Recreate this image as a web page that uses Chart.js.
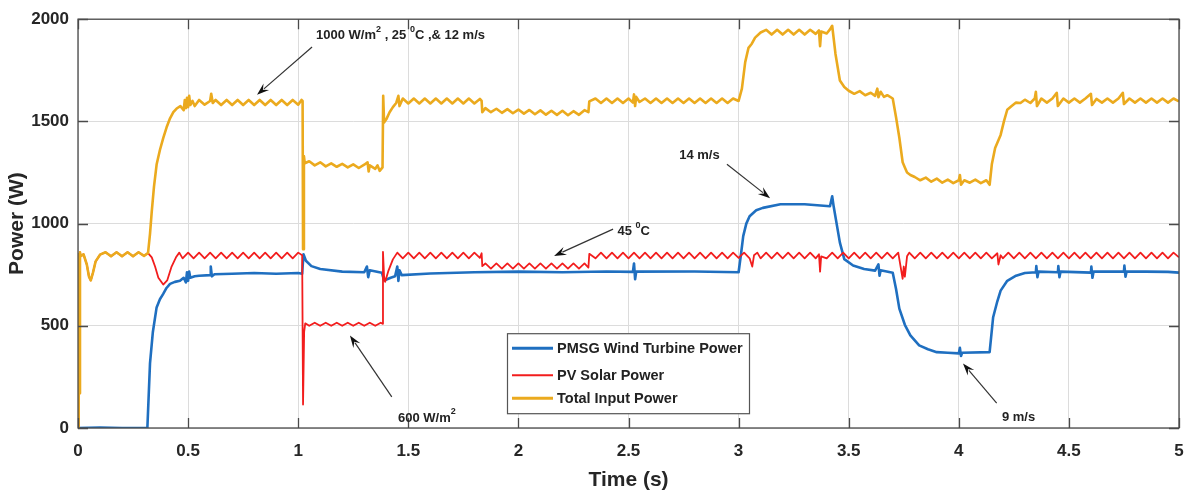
<!DOCTYPE html>
<html>
<head>
<meta charset="utf-8">
<script src="https://cdn.jsdelivr.net/npm/chart.js@4.4.1/dist/chart.umd.min.js"></script>
<style>
  html, body { margin: 0; padding: 0; background: #fff; }
  #wrap { width: 1188px; height: 498px; position: relative; }
</style>
</head>
<body>
<div id="wrap"><canvas id="powerChart"></canvas></div>
<script>
// axis ticks
const xTicks = [0, 0.5, 1, 1.5, 2, 2.5, 3, 3.5, 4, 4.5, 5];
const yTicks = [0, 500, 1000, 1500, 2000];

// [time (s), power (W)]
const windPower = [
  [0,0],[0.1,2],[0.2,0],[0.315,0],[0.327,316],[0.34,470],[0.357,590],[0.372,630],[0.387,656],[0.402,685],[0.418,705],[0.44,715],
  [0.463,720],[0.48,735],[0.49,712],[0.495,762],[0.5,720],[0.505,765],[0.51,735],[0.53,742],[0.55,745],[0.6,748],[0.603,790],
  [0.608,742],[0.62,752],[0.7,755],[0.8,758],[0.9,755],[1.0,758],[1.018,755],[1.024,850],[1.035,818],[1.06,792],[1.1,778],
  [1.2,765],[1.3,762],[1.312,790],[1.318,738],[1.325,772],[1.38,760],[1.39,722],[1.42,735],[1.44,742],[1.45,790],[1.455,720],
  [1.46,772],[1.47,748],[1.6,756],[1.8,762],[2.0,765],[2.2,762],[2.4,766],[2.52,764],[2.525,805],[2.53,728],[2.535,765],
  [2.8,766],[3.0,762],[3.012,860],[3.021,939],[3.035,1000],[3.05,1036],[3.08,1065],[3.11,1077],[3.19,1095],[3.3,1095],
  [3.415,1085],[3.425,1134],[3.432,1082],[3.46,907],[3.48,826],[3.52,795],[3.57,778],[3.62,770],[3.635,800],[3.64,745],
  [3.645,772],[3.7,760],[3.715,680],[3.73,584],[3.755,505],[3.78,453],[3.82,404],[3.86,385],[3.9,371],[3.95,368],[4.0,365],
  [4.005,392],[4.01,352],[4.015,368],[4.14,371],[4.156,542],[4.175,620],[4.19,672],[4.22,720],[4.26,745],[4.3,758],[4.35,762],
  [4.352,792],[4.357,738],[4.362,765],[4.45,762],[4.452,792],[4.457,738],[4.462,765],[4.6,760],[4.602,790],[4.607,735],
  [4.612,765],[4.75,766],[4.752,795],[4.757,740],[4.762,766],[4.85,765],[4.95,764],[5.0,760]
];

const pvPower = [
  [0,0],[0.003,850],[0.006,170],[0.009,860],[0.012,840],[0.025,850],[0.04,800],[0.05,740],[0.058,722],[0.068,760],[0.08,815],
  [0.1,848],[0.125,860],[0.15,840],[0.175,860],[0.2,840],[0.225,860],[0.25,840],[0.275,860],[0.3,842],[0.318,856],
  [0.335,835],[0.35,790],[0.365,735],[0.387,702],[0.405,722],[0.425,790],[0.445,835],[0.46,858],[0.475,830],[0.5,858],
  [0.525,830],[0.55,858],[0.575,830],[0.6,858],[0.625,830],[0.65,858],[0.675,830],[0.7,858],[0.725,830],[0.75,858],
  [0.775,830],[0.8,858],[0.825,830],[0.85,858],[0.875,830],[0.9,858],[0.925,830],[0.95,858],[0.975,830],[1.0,858],
  [1.018,845],[1.022,115],[1.027,470],[1.032,512],[1.05,500],[1.075,515],[1.1,500],[1.125,515],[1.15,500],[1.175,515],
  [1.2,500],[1.225,515],[1.25,500],[1.275,515],[1.3,500],[1.325,515],[1.35,500],[1.375,515],[1.383,510],[1.385,862],
  [1.39,740],[1.395,715],[1.41,770],[1.43,825],[1.45,858],[1.475,830],[1.5,858],[1.525,830],[1.55,858],[1.575,830],
  [1.6,858],[1.625,830],[1.65,858],[1.675,830],[1.7,858],[1.725,830],[1.75,858],[1.775,830],[1.8,858],[1.825,832],
  [1.833,855],[1.836,792],[1.85,805],[1.875,780],[1.9,805],[1.925,780],[1.95,805],[1.975,780],[2.0,805],[2.025,780],
  [2.05,805],[2.075,780],[2.1,805],[2.125,780],[2.15,805],[2.175,780],[2.2,805],[2.225,780],[2.25,805],[2.275,780],
  [2.3,805],[2.318,785],[2.322,852],[2.35,830],[2.375,858],[2.4,830],[2.425,858],[2.45,830],[2.475,858],[2.5,830],
  [2.525,858],[2.55,830],[2.575,858],[2.6,830],[2.625,858],[2.65,830],[2.675,858],[2.7,830],[2.725,858],[2.75,830],
  [2.775,858],[2.8,830],[2.825,858],[2.85,830],[2.875,858],[2.9,830],[2.925,858],[2.95,830],[2.975,858],[3.0,832],
  [3.025,858],[3.05,830],[3.062,790],[3.07,845],[3.085,858],[3.1,830],[3.125,858],[3.15,830],[3.175,858],[3.2,830],
  [3.225,858],[3.25,830],[3.275,858],[3.3,830],[3.325,858],[3.35,830],[3.365,850],[3.37,765],[3.375,840],[3.4,830],
  [3.425,858],[3.45,830],[3.475,858],[3.5,830],[3.525,858],[3.55,830],[3.575,858],[3.6,830],[3.625,858],[3.65,830],
  [3.675,858],[3.7,830],[3.725,858],[3.745,730],[3.75,790],[3.755,740],[3.765,840],[3.775,858],[3.8,830],[3.825,858],
  [3.85,830],[3.875,858],[3.9,830],[3.925,858],[3.95,830],[3.975,858],[4.0,830],[4.025,858],[4.05,830],[4.075,858],
  [4.1,830],[4.125,858],[4.15,830],[4.175,855],[4.18,800],[4.19,845],[4.2,830],[4.225,858],[4.25,830],[4.275,858],
  [4.3,830],[4.325,858],[4.35,830],[4.375,858],[4.4,830],[4.425,858],[4.45,830],[4.475,858],[4.5,830],[4.525,858],
  [4.55,830],[4.575,858],[4.6,830],[4.625,858],[4.65,830],[4.675,858],[4.7,830],[4.725,858],[4.75,830],[4.775,858],
  [4.8,830],[4.825,858],[4.85,830],[4.875,858],[4.9,830],[4.925,858],[4.95,830],[4.975,858],[5.0,835]
];

const totalPower = [
  [0,0],[0.003,850],[0.006,170],[0.009,860],[0.012,840],[0.025,850],[0.04,800],[0.05,740],[0.058,722],[0.068,760],[0.08,815],
  [0.1,848],[0.125,860],[0.15,840],[0.175,860],[0.2,840],[0.225,860],[0.25,840],[0.275,860],[0.3,842],[0.318,856],
  [0.327,950],[0.335,1060],[0.345,1180],[0.357,1289],[0.372,1360],[0.387,1418],[0.402,1470],[0.418,1515],[0.433,1545],
  [0.448,1563],[0.465,1575],[0.48,1555],[0.485,1605],[0.49,1565],[0.495,1615],[0.5,1570],[0.505,1625],[0.51,1580],
  [0.52,1600],[0.53,1575],[0.55,1605],[0.575,1582],[0.6,1600],[0.605,1635],[0.612,1590],[0.625,1605],[0.65,1580],
  [0.675,1605],[0.7,1580],[0.725,1605],[0.75,1580],[0.775,1605],[0.8,1580],[0.825,1605],[0.85,1580],[0.875,1605],
  [0.9,1580],[0.925,1605],[0.95,1580],[0.975,1605],[1.0,1582],[1.015,1605],[1.02,1600],[1.022,875],[1.026,1330],
  [1.03,1295],[1.05,1305],[1.075,1285],[1.1,1300],[1.125,1280],[1.15,1295],[1.175,1278],[1.2,1292],[1.225,1275],
  [1.25,1290],[1.275,1272],[1.3,1288],[1.315,1300],[1.32,1255],[1.325,1285],[1.35,1268],[1.36,1285],[1.37,1258],
  [1.383,1275],[1.386,1625],[1.39,1495],[1.4,1510],[1.415,1545],[1.43,1570],[1.445,1590],[1.455,1625],[1.46,1575],
  [1.475,1612],[1.5,1588],[1.525,1612],[1.55,1588],[1.575,1612],[1.6,1588],[1.625,1612],[1.65,1588],[1.675,1612],
  [1.7,1588],[1.725,1612],[1.75,1588],[1.775,1612],[1.8,1588],[1.825,1610],[1.833,1600],[1.836,1545],[1.85,1565],
  [1.875,1545],[1.9,1562],[1.925,1542],[1.95,1560],[1.975,1540],[2.0,1558],[2.025,1538],[2.05,1556],[2.075,1535],
  [2.1,1554],[2.125,1533],[2.15,1552],[2.175,1532],[2.2,1552],[2.225,1530],[2.25,1550],[2.275,1532],[2.3,1555],
  [2.318,1545],[2.322,1598],[2.35,1612],[2.375,1590],[2.4,1612],[2.425,1590],[2.45,1612],[2.475,1590],[2.5,1612],
  [2.52,1592],[2.525,1632],[2.53,1575],[2.535,1620],[2.55,1595],[2.575,1612],[2.6,1590],[2.625,1612],[2.65,1590],
  [2.675,1612],[2.7,1590],[2.725,1612],[2.75,1590],[2.775,1612],[2.8,1590],[2.825,1612],[2.85,1590],[2.875,1612],
  [2.9,1590],[2.925,1612],[2.95,1590],[2.975,1612],[3.0,1600],[3.015,1660],[3.03,1790],[3.045,1860],[3.06,1880],
  [3.075,1910],[3.1,1935],[3.125,1948],[3.15,1925],[3.175,1948],[3.2,1925],[3.225,1948],[3.25,1925],[3.275,1948],
  [3.3,1925],[3.325,1948],[3.35,1928],[3.365,1945],[3.37,1868],[3.375,1940],[3.4,1930],[3.415,1950],[3.425,1968],
  [3.44,1830],[3.46,1700],[3.48,1668],[3.5,1650],[3.525,1635],[3.55,1648],[3.575,1628],[3.6,1640],[3.62,1625],
  [3.63,1660],[3.635,1618],[3.645,1645],[3.66,1620],[3.675,1628],[3.7,1612],[3.715,1520],[3.73,1420],[3.745,1300],
  [3.755,1275],[3.765,1250],[3.78,1238],[3.8,1228],[3.825,1212],[3.85,1225],[3.875,1205],[3.9,1220],[3.925,1200],
  [3.95,1215],[3.975,1198],[4.0,1212],[4.005,1238],[4.01,1190],[4.025,1212],[4.05,1200],[4.075,1215],[4.1,1198],
  [4.125,1212],[4.14,1190],[4.15,1290],[4.165,1370],[4.19,1434],[4.205,1500],[4.22,1557],[4.24,1575],[4.26,1592],
  [4.28,1590],[4.3,1606],[4.325,1590],[4.345,1612],[4.35,1645],[4.355,1575],[4.375,1612],[4.4,1592],[4.425,1612],
  [4.445,1640],[4.45,1575],[4.475,1612],[4.5,1592],[4.525,1612],[4.55,1592],[4.575,1612],[4.6,1635],[4.605,1580],
  [4.625,1610],[4.65,1592],[4.675,1612],[4.7,1592],[4.725,1612],[4.745,1640],[4.75,1585],[4.775,1612],[4.8,1592],
  [4.825,1612],[4.85,1592],[4.875,1612],[4.9,1592],[4.925,1612],[4.95,1592],[4.975,1612],[5.0,1598]
];

const seriesNames = ['PMSG Wind Turbine Power', 'PV Solar Power', 'Total Input Power'];
const seriesColors = ['#1f6fc0', '#f21d1d', '#ebaa1e'];

const FONT = 'Arial, "Liberation Sans", sans-serif';
const toXY = pts => pts.map(p => ({ x: p[0], y: p[1] }));

// text + arrow callouts, anchored in data units [t, W]
const callouts = [
  { parts: [['1000 W/m', 0], ['2', 1], [' , 25 ', 0], ['0', 1], ['C ,& 12 m/s', 0]], at: [1.081, 1922], from: [1.063, 1864], to: [0.813, 1630] },
  { parts: [['14 m/s', 0]], at: [2.73, 1333], from: [2.947, 1290], to: [3.143, 1124] },
  { parts: [['45 ', 0], ['0', 1], ['C', 0]], at: [2.45, 963], from: [2.43, 973], to: [2.162, 842] },
  { parts: [['600 W/m', 0], ['2', 1]], at: [1.453, 49], from: [1.425, 152], to: [1.235, 453] },
  { parts: [['9 m/s', 0]], at: [4.196, 54], from: [4.172, 122], to: [4.019, 316] }
];

function arrow(ctx, x1, y1, x2, y2) {
  const ang = Math.atan2(y2 - y1, x2 - x1);
  const len = 13, half = 0.33;
  ctx.strokeStyle = '#333';
  ctx.lineWidth = 1.2;
  ctx.beginPath();
  ctx.moveTo(x1, y1);
  ctx.lineTo(x2 - Math.cos(ang) * len * 0.7, y2 - Math.sin(ang) * len * 0.7);
  ctx.stroke();
  ctx.fillStyle = '#111';
  ctx.beginPath();
  ctx.moveTo(x2, y2);
  ctx.lineTo(x2 - len * Math.cos(ang - half), y2 - len * Math.sin(ang - half));
  ctx.lineTo(x2 - len * 0.6 * Math.cos(ang), y2 - len * 0.6 * Math.sin(ang));
  ctx.lineTo(x2 - len * Math.cos(ang + half), y2 - len * Math.sin(ang + half));
  ctx.closePath();
  ctx.fill();
}

const decorPlugin = {
  id: 'decor',
  afterDatasetsDraw(chart) {
    const { ctx, chartArea: a, scales: { x, y } } = chart;
    ctx.save();

    // MATLAB-style box with inward ticks
    ctx.strokeStyle = '#4a4a4a';
    ctx.lineWidth = 1.3;
    ctx.strokeRect(a.left, a.top, a.right - a.left, a.bottom - a.top);
    ctx.beginPath();
    xTicks.forEach(t => {
      const px = Math.round(x.getPixelForValue(t)) + 0.5;
      ctx.moveTo(px, a.bottom); ctx.lineTo(px, a.bottom - 10);
      ctx.moveTo(px, a.top); ctx.lineTo(px, a.top + 10);
    });
    yTicks.forEach(v => {
      const py = Math.round(y.getPixelForValue(v)) + 0.5;
      ctx.moveTo(a.left, py); ctx.lineTo(a.left + 10, py);
      ctx.moveTo(a.right, py); ctx.lineTo(a.right - 10, py);
    });
    ctx.stroke();

    // callouts
    ctx.textBaseline = 'middle';
    ctx.textAlign = 'left';
    callouts.forEach(c => {
      arrow(ctx, x.getPixelForValue(c.from[0]), y.getPixelForValue(c.from[1]),
                 x.getPixelForValue(c.to[0]), y.getPixelForValue(c.to[1]));
      let px = x.getPixelForValue(c.at[0]);
      const py = y.getPixelForValue(c.at[1]);
      ctx.fillStyle = '#222';
      c.parts.forEach(([s, sup]) => {
        ctx.font = sup ? 'bold 9px ' + FONT : 'bold 13px ' + FONT;
        ctx.fillText(s, px, sup ? py - 6 : py);
        px += ctx.measureText(s).width;
      });
    });

    // legend box inside the axes
    const lx = a.left + 429, ly = a.top + 314, lw = 242, lh = 80;
    ctx.fillStyle = '#fff';
    ctx.fillRect(lx, ly, lw, lh);
    ctx.strokeStyle = '#555';
    ctx.lineWidth = 1.2;
    ctx.strokeRect(lx + 0.5, ly + 0.5, lw, lh);
    const rows = [15, 42, 65];
    const widths = [3, 2, 3];
    ctx.font = 'bold 14.5px ' + FONT;
    seriesNames.forEach((name, i) => {
      const ry = ly + rows[i];
      ctx.strokeStyle = seriesColors[i];
      ctx.lineWidth = widths[i];
      ctx.beginPath();
      ctx.moveTo(lx + 5, ry); ctx.lineTo(lx + 46, ry);
      ctx.stroke();
      ctx.fillStyle = '#222';
      ctx.fillText(name, lx + 50, ry + 1);
    });
    ctx.restore();
  }
};

new Chart(document.getElementById('powerChart').getContext('2d'), {
  type: 'line',
  data: {
    datasets: [
      { label: seriesNames[0], data: toXY(windPower), borderColor: seriesColors[0], borderWidth: 2.6, order: 3 },
      { label: seriesNames[1], data: toXY(pvPower), borderColor: seriesColors[1], borderWidth: 1.8, order: 2 },
      { label: seriesNames[2], data: toXY(totalPower), borderColor: seriesColors[2], borderWidth: 2.6, order: 1 }
    ]
  },
  options: {
    responsive: true,
    maintainAspectRatio: false,
    animation: false,
    events: [],
    elements: { point: { radius: 0 }, line: { tension: 0, borderJoinStyle: 'round' } },
    layout: { padding: { top: 17, right: 9, left: 0, bottom: 0 } },
    plugins: { legend: { display: false }, tooltip: { enabled: false } },
    scales: {
      x: {
        type: 'linear', min: 0, max: 5,
        afterFit: s => { s.height = 70; s.paddingRight = 4; s.paddingLeft = 0; },
        afterBuildTicks: s => { s.ticks = xTicks.map(v => ({ value: v })); },
        grid: { color: '#dcdcdc', lineWidth: 1, drawTicks: false },
        border: { display: false },
        ticks: { padding: 13, color: '#262626', font: { family: FONT, size: 17, weight: 'bold' }, maxRotation: 0, callback: v => String(v) },
        title: { display: true, text: 'Time (s)', color: '#262626', font: { family: FONT, size: 21, weight: 'bold' }, padding: { top: 0, bottom: 5 } }
      },
      y: {
        min: 0, max: 2000,
        afterFit: s => { s.width = 78; },
        afterBuildTicks: s => { s.ticks = yTicks.map(v => ({ value: v })); },
        grid: { color: '#dcdcdc', lineWidth: 1, drawTicks: false },
        border: { display: false },
        ticks: { padding: 9, color: '#262626', font: { family: FONT, size: 17, weight: 'bold' }, callback: v => String(v) },
        title: { display: true, text: 'Power (W)', color: '#262626', font: { family: FONT, size: 21, weight: 'bold' }, padding: { top: 5, bottom: 0 } }
      }
    }
  },
  plugins: [decorPlugin]
});
</script>
</body>
</html>
